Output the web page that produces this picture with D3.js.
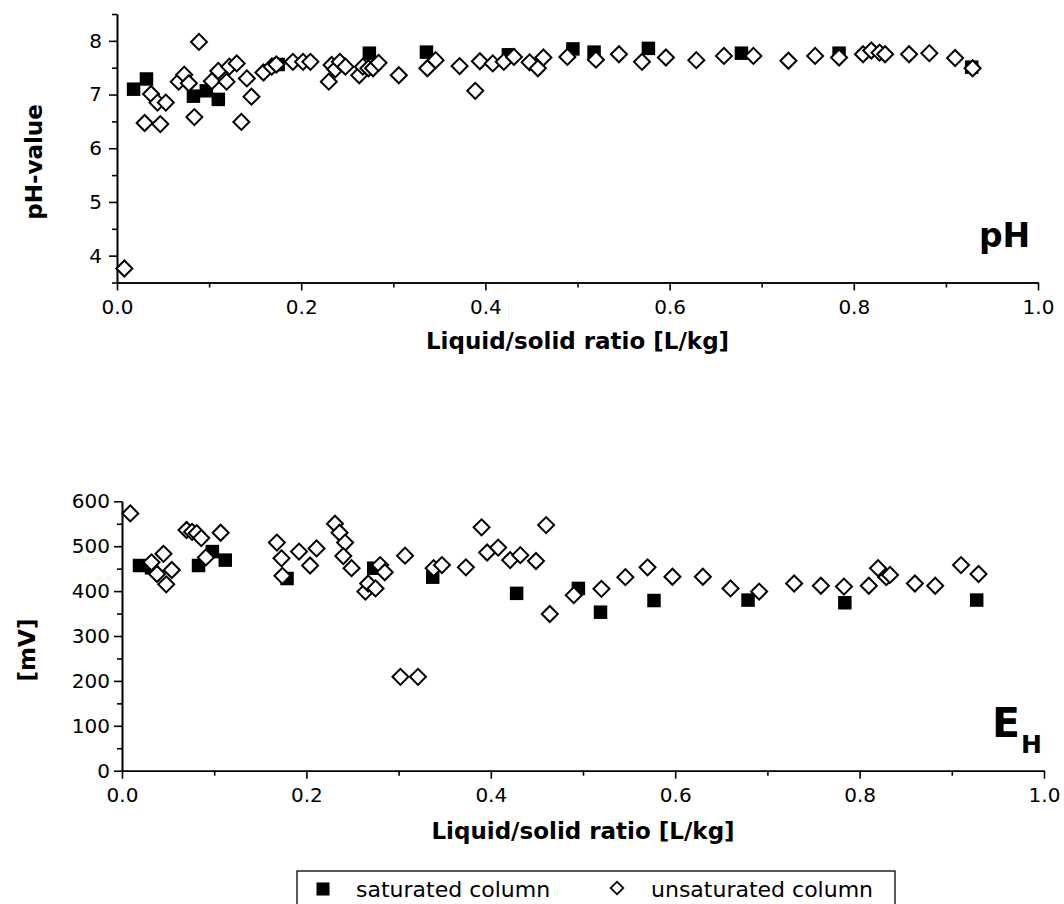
<!DOCTYPE html>
<html>
<head>
<meta charset="utf-8">
<script src="https://cdn.jsdelivr.net/npm/d3@7"></script>
<style>
  html, body { margin: 0; padding: 0; background: #fff; }
  svg { display: block; font-family: "DejaVu Sans", sans-serif; }
</style>
</head>
<body>
<svg id="chart" width="1064" height="904"></svg>
<script>
// pH of the leachate, saturated column
const phSatX = [0.018, 0.032, 0.083, 0.097, 0.110, 0.175, 0.274, 0.336, 0.425, 0.495, 0.518, 0.577, 0.678, 0.784, 0.928];
const phSat  = [7.10, 7.29, 6.97, 7.07, 6.91, 7.56, 7.77, 7.79, 7.74, 7.85, 7.79, 7.86, 7.77, 7.77, 7.51];

// pH of the leachate, unsaturated column
const phUnsatX = [0.008, 0.030, 0.037, 0.044, 0.047, 0.053, 0.067, 0.073, 0.078, 0.084,
                  0.089, 0.103, 0.110, 0.119, 0.122, 0.130, 0.135, 0.141, 0.146, 0.159,
                  0.168, 0.173, 0.191, 0.202, 0.210, 0.230, 0.233, 0.237, 0.242, 0.248,
                  0.263, 0.267, 0.273, 0.278, 0.284, 0.306, 0.337, 0.346, 0.372, 0.389,
                  0.394, 0.408, 0.420, 0.431, 0.448, 0.457, 0.463, 0.489, 0.520, 0.545,
                  0.570, 0.596, 0.629, 0.659, 0.691, 0.729, 0.758, 0.784, 0.810, 0.819,
                  0.828, 0.834, 0.860, 0.882, 0.910, 0.929];
const phUnsat  = [3.76, 6.47, 7.01, 6.85, 6.45, 6.85, 7.24, 7.37, 7.21, 6.58,
                  7.98, 7.25, 7.44, 7.24, 7.52, 7.58, 6.49, 7.30, 6.96, 7.41,
                  7.52, 7.56, 7.61, 7.61, 7.61, 7.24, 7.55, 7.47, 7.61, 7.52,
                  7.36, 7.52, 7.49, 7.49, 7.59, 7.36, 7.49, 7.64, 7.53, 7.07,
                  7.62, 7.58, 7.61, 7.70, 7.60, 7.49, 7.69, 7.70, 7.65, 7.75,
                  7.61, 7.69, 7.64, 7.72, 7.72, 7.63, 7.72, 7.69, 7.75, 7.82,
                  7.78, 7.75, 7.75, 7.77, 7.68, 7.49];

// Redox potential E_H [mV], saturated column
const ehSatX = [0.019, 0.032, 0.083, 0.098, 0.112, 0.179, 0.273, 0.337, 0.428, 0.495, 0.519, 0.577, 0.679, 0.784, 0.927];
const ehSat  = [457, 452, 457, 488, 469, 428, 451, 431, 395, 406, 353, 379, 380, 374, 380];

// Redox potential E_H [mV], unsaturated column
const ehUnsatX = [0.009, 0.032, 0.038, 0.045, 0.048, 0.054, 0.070, 0.076, 0.081, 0.086,
                  0.091, 0.107, 0.168, 0.173, 0.174, 0.192, 0.204, 0.211, 0.231, 0.236,
                  0.242, 0.240, 0.249, 0.264, 0.267, 0.275, 0.280, 0.285, 0.302, 0.307,
                  0.321, 0.338, 0.347, 0.373, 0.390, 0.396, 0.408, 0.421, 0.432, 0.449,
                  0.460, 0.464, 0.490, 0.520, 0.546, 0.570, 0.597, 0.630, 0.660, 0.691,
                  0.729, 0.758, 0.783, 0.810, 0.820, 0.829, 0.833, 0.860, 0.882, 0.910,
                  0.929];
const ehUnsat  = [573, 464, 438, 483, 415, 447, 536, 532, 529, 518,
                  475, 530, 508, 473, 434, 488, 457, 495, 550, 530,
                  508, 478, 451, 399, 417, 406, 458, 442, 209, 479,
                  209, 451, 458, 453, 542, 486, 497, 469, 480, 467,
                  547, 349, 391, 405, 431, 453, 432, 432, 406, 399,
                  417, 412, 410, 412, 451, 431, 436, 417, 412, 458,
                  438];

// Axis ticks
const xTicks    = [0, 0.2, 0.4, 0.6, 0.8, 1.0];
const xMinor    = [0.1, 0.3, 0.5, 0.7, 0.9];
const phTicks   = [4, 5, 6, 7, 8];
const phMinor   = [3.5, 4.5, 5.5, 6.5, 7.5, 8.5];
const ehTicks   = [0, 100, 200, 300, 400, 500, 600];
const ehMinor   = [50, 150, 250, 350, 450, 550];

const legendLabels = ["saturated column", "unsaturated column"];

const svg = d3.select("#chart");

const squareSym  = d3.symbol().type(d3.symbolSquare);
const diamondSym = d3.symbol().type(d3.symbolSquare);

function drawAxes(g, x, y, yTicks, yMinor, yFmt, xPad, yPad) {
  const xAxis = d3.axisBottom(x).tickValues(xTicks).tickFormat(d3.format(".1f"))
    .tickSize(8).tickSizeOuter(0).tickPadding(xPad);
  const xAxisMinor = d3.axisBottom(x).tickValues(xMinor).tickFormat("")
    .tickSize(5).tickSizeOuter(0);
  const yAxis = d3.axisLeft(y).tickValues(yTicks).tickFormat(yFmt)
    .tickSize(8).tickSizeOuter(0).tickPadding(yPad);
  const yAxisMinor = d3.axisLeft(y).tickValues(yMinor).tickFormat("")
    .tickSize(5).tickSizeOuter(0);

  const y0 = y.range()[0];
  const x0 = x.range()[0];
  [xAxisMinor, xAxis].forEach(a => {
    g.append("g").attr("transform", `translate(0,${y0})`).call(a);
  });
  [yAxisMinor, yAxis].forEach(a => {
    g.append("g").attr("transform", `translate(${x0},0)`).call(a);
  });
  g.selectAll(".domain, .tick line").attr("stroke", "#000").attr("stroke-width", 1.6);
  g.selectAll(".tick text").attr("fill", "#000")
    .style("font-family", "'DejaVu Sans', sans-serif").style("font-size", "20px");
}

function drawPoints(g, x, y, satX, sat, unsatX, unsat) {
  g.append("g").selectAll("path")
    .data(satX.map((v, i) => [v, sat[i]]))
    .join("path")
    .attr("d", squareSym.size(182)())
    .attr("transform", d => `translate(${x(d[0])},${y(d[1])})`)
    .attr("fill", "#000");
  g.append("g").selectAll("path")
    .data(unsatX.map((v, i) => [v, unsat[i]]))
    .join("path")
    .attr("d", diamondSym.size(128)())
    .attr("transform", d => `translate(${x(d[0])},${y(d[1])}) rotate(45)`)
    .attr("fill", "#fff").attr("stroke", "#000").attr("stroke-width", 2);
}

// ---- pH panel ----
const xTop = d3.scaleLinear().domain([0, 1]).range([117, 1038]);
const yTop = d3.scaleLinear().domain([3.5, 8.5]).range([282.5, 14]);
const gTop = svg.append("g");
drawAxes(gTop, xTop, yTop, phTicks, phMinor, d3.format("d"), 9, 7);
drawPoints(gTop, xTop, yTop, phSatX, phSat, phUnsatX, phUnsat);

gTop.append("text")
  .attr("x", (xTop.range()[0] + xTop.range()[1]) / 2).attr("y", 349)
  .attr("text-anchor", "middle").attr("font-weight", "bold").attr("font-size", 23)
  .text("Liquid/solid ratio [L/kg]");
gTop.append("text")
  .attr("transform", "translate(42,162) rotate(-90)")
  .attr("text-anchor", "middle").attr("font-weight", "bold").attr("font-size", 23)
  .text("pH-value");
gTop.append("text")
  .attr("x", 979).attr("y", 247)
  .attr("font-weight", "bold").attr("font-size", 33)
  .text("pH");

// ---- E_H panel ----
const xBot = d3.scaleLinear().domain([0, 1]).range([122, 1044]);
const yBot = d3.scaleLinear().domain([0, 600]).range([770.7, 501.3]);
const gBot = svg.append("g");
drawAxes(gBot, xBot, yBot, ehTicks, ehMinor, d3.format("d"), 9, 4);
drawPoints(gBot, xBot, yBot, ehSatX, ehSat, ehUnsatX, ehUnsat);

gBot.append("text")
  .attr("x", (xBot.range()[0] + xBot.range()[1]) / 2).attr("y", 839)
  .attr("text-anchor", "middle").attr("font-weight", "bold").attr("font-size", 23)
  .text("Liquid/solid ratio [L/kg]");
gBot.append("text")
  .attr("transform", "translate(35,650) rotate(-90)")
  .attr("text-anchor", "middle").attr("font-weight", "bold").attr("font-size", 23)
  .text("[mV]");
const eh = gBot.append("text")
  .attr("x", 992).attr("y", 737)
  .attr("font-weight", "bold").attr("font-size", 41);
eh.append("tspan").text("E");
eh.append("tspan").attr("font-size", 25).attr("dy", 16).attr("dx", 1).text("H");

// ---- Legend ----
const lg = svg.append("g");
lg.append("rect")
  .attr("x", 297).attr("y", 871).attr("width", 598).attr("height", 50)
  .attr("fill", "#fff").attr("stroke", "#000").attr("stroke-width", 1.3);
lg.append("path")
  .attr("d", squareSym.size(170)())
  .attr("transform", "translate(323,889)")
  .attr("fill", "#000");
lg.append("text").attr("x", 356).attr("y", 897).attr("font-size", 22).text(legendLabels[0]);
lg.append("path")
  .attr("d", diamondSym.size(80)())
  .attr("transform", "translate(617,888) rotate(45)")
  .attr("fill", "#fff").attr("stroke", "#000").attr("stroke-width", 1.8);
lg.append("text").attr("x", 651).attr("y", 897).attr("font-size", 22).text(legendLabels[1]);
</script>
</body>
</html>
